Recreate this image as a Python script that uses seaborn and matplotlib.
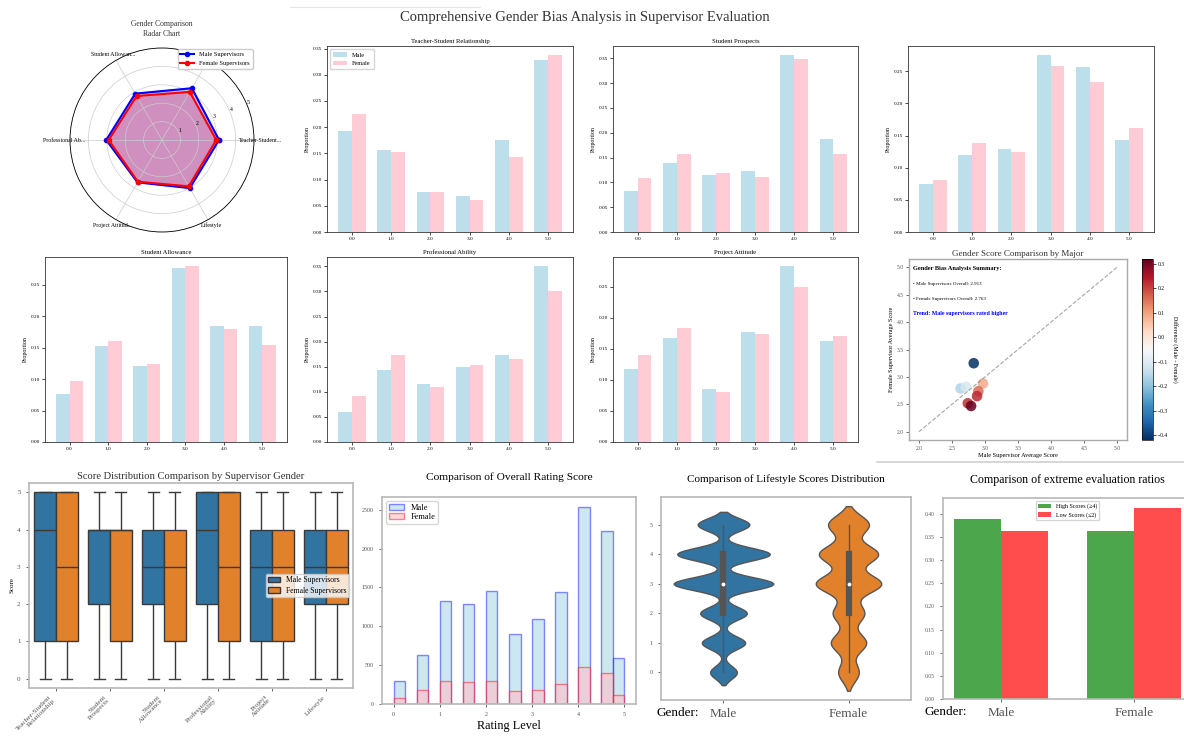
import numpy as np
import pandas as pd
import matplotlib
matplotlib.use("Agg")
import matplotlib.pyplot as plt
import seaborn as sns
from matplotlib.colors import Normalize, to_rgba
from matplotlib.cm import ScalarMappable
from matplotlib.lines import Line2D

plt.rcParams["font.family"] = ["Liberation Serif", "DejaVu Serif"]

# ---------------------------------------------------------------- data
dimensions = ["Teacher-Student Relationship", "Student Prospects", "Student Allowance",
              "Professional Ability", "Project Attitude", "Lifestyle"]
score_levels = ["0.0", "1.0", "2.0", "3.0", "4.0", "5.0"]

# share of each score (0..5) per dimension
ts_male = [0.193, 0.157, 0.076, 0.069, 0.175, 0.328]
ts_female = [0.225, 0.153, 0.076, 0.062, 0.144, 0.338]
sp_male = [0.083, 0.139, 0.115, 0.122, 0.357, 0.187]
sp_female = [0.108, 0.158, 0.118, 0.110, 0.349, 0.157]
sa_male = [0.0755, 0.152, 0.121, 0.277, 0.185, 0.185]
sa_female = [0.097, 0.161, 0.124, 0.280, 0.179, 0.154]
pa_male = [0.059, 0.143, 0.115, 0.149, 0.173, 0.351]
pa_female = [0.091, 0.173, 0.109, 0.153, 0.166, 0.300]
att_male = [0.118, 0.167, 0.085, 0.177, 0.284, 0.1625]
att_female = [0.140, 0.183, 0.080, 0.174, 0.250, 0.171]
ls_male = [0.074, 0.120, 0.129, 0.2755, 0.256, 0.143]
ls_female = [0.081, 0.139, 0.124, 0.258, 0.233, 0.161]

# radar: average score per dimension
radar_male = [3.10, 3.25, 2.91, 3.03, 2.66, 3.02]
radar_female = [2.95, 3.02, 2.76, 2.90, 2.62, 2.91]

# overall rating counts per rating level
rating_levels = [0.0, 0.5, 1.0, 1.5, 2.0, 2.5, 3.0, 3.5, 4.0, 4.5, 5.0]
overall_male = [299, 636, 1329, 1286, 1459, 905, 1091, 1446, 2537, 2229, 593]
overall_female = [82, 182, 299, 281, 290, 169, 182, 260, 476, 403, 117]

# per-major averages
major_male_avg = [2.83, 2.63, 2.71, 2.97, 2.90, 2.88, 2.74, 2.79]
major_female_avg = [3.25, 2.79, 2.82, 2.88, 2.74, 2.65, 2.52, 2.47]

male_props = [ts_male, sp_male, sa_male, pa_male, att_male, ls_male]
female_props = [ts_female, sp_female, sa_female, pa_female, att_female, ls_female]

W, H = 1184, 736
fig = plt.figure(figsize=(W / 100, H / 100), dpi=100)


def add_ax(l, t, r, b, **kw):
    return fig.add_axes([l / W, 1 - b / H, (r - l) / W, (b - t) / H], **kw)


def gray_frame(ax, color="#b8b8b8", lw=1.2):
    for s in ax.spines.values():
        s.set_color(color)
        s.set_linewidth(lw)
    ax.tick_params(colors="#555555", width=0.6, length=2.5)


n_male = int(np.sum(overall_male))
n_female = int(np.sum(overall_female))


def expand(props, n):
    p = np.asarray(props, dtype=float)
    counts = np.round(p / p.sum() * n).astype(int)
    return np.repeat(np.arange(len(p)), counts)


fig.text(585 / W, 1 - 18 / H, "Comprehensive Gender Bias Analysis in Supervisor Evaluation",
         ha="center", va="center", fontsize=10.5, color="#333333")

# ---------------------------------------------------------------- radar
rax = add_ax(70, 48, 254, 232, projection="polar")
angles = np.linspace(0, 2 * np.pi, len(dimensions), endpoint=False)
ang_c = np.concatenate([angles, angles[:1]])
m_c = np.concatenate([radar_male, radar_male[:1]])
f_c = np.concatenate([radar_female, radar_female[:1]])
rax.plot(ang_c, m_c, "o-", color="blue", lw=1.5, ms=3, label="Male Supervisors")
rax.fill(ang_c, m_c, color="blue", alpha=0.25)
rax.plot(ang_c, f_c, "o-", color="red", lw=1.5, ms=3, label="Female Supervisors")
rax.fill(ang_c, f_c, color="red", alpha=0.25)
rax.set_xticks(angles)
rax.set_xticklabels([d if len(d) <= 15 else d[:15] + "..." for d in dimensions], fontsize=4.2)
rax.set_ylim(0, 5)
rax.set_yticks([1, 2, 3, 4, 5])
rax.set_yticklabels(["1", "2", "3", "4", "5"], fontsize=4.2)
rax.tick_params(axis="x", pad=-6)
rax.tick_params(axis="y", pad=1)
rax.grid(color="#cccccc", lw=0.5)
rax.spines["polar"].set_linewidth(0.6)
leg = rax.legend(loc="upper right", fontsize=4.6, borderpad=0.4, handlelength=2.2,
                 bbox_to_anchor=(1.01, 1.01), framealpha=1)
leg.set_zorder(10)
fig.text(162 / W, 1 - 29 / H, "Gender Comparison\nRadar Chart", ha="center", va="center",
         fontsize=5.5, linespacing=1.2, color="#333333")

# ---------------------------------------------------------------- proportion panels
def prop_panel(box, male, female, title, legend=False):
    ax = add_ax(*box)
    df = pd.DataFrame({"Score": score_levels * 2,
                       "Proportion": list(male) + list(female),
                       "Gender": ["Male"] * 6 + ["Female"] * 6})
    sns.barplot(data=df, x="Score", y="Proportion", hue="Gender",
                palette={"Male": "lightblue", "Female": "pink"}, width=0.7,
                saturation=1, alpha=0.8, errorbar=None, ax=ax, legend=legend)
    ax.set_xlim(-0.635, 5.635)
    ax.set_xlabel("")
    ax.set_ylabel("Proportion", fontsize=4.3, labelpad=2)
    ax.tick_params(labelsize=3.8, length=2, width=0.5, pad=1.5)
    for s in ax.spines.values():
        s.set_linewidth(0.6)
        s.set_color("#333333")
    if title:
        ax.set_title(title, fontsize=4.8, pad=2.5)
    if legend:
        ax.legend(loc="upper left", fontsize=4.5, frameon=True, borderpad=0.5,
                  handlelength=2.2)
    return ax


prop_panel((327, 46, 573, 232), ts_male, ts_female, "Teacher-Student Relationship", legend=True)
prop_panel((613, 46, 858, 232), sp_male, sp_female, "Student Prospects")
prop_panel((908, 46, 1154, 232), ls_male, ls_female, None)
prop_panel((45, 257, 287, 442), sa_male, sa_female, "Student Allowance")
prop_panel((327, 257, 573, 442), pa_male, pa_female, "Professional Ability")
prop_panel((613, 257, 858, 442), att_male, att_female, "Project Attitude")

# ---------------------------------------------------------------- major scatter
sax = add_ax(909, 259, 1127, 440)
diff = np.array(major_male_avg) - np.array(major_female_avg)
norm = Normalize(vmin=diff.min(), vmax=diff.max())
sax.plot([2, 5], [2, 5], "--", color="gray", alpha=0.7, lw=0.8)
sns.scatterplot(x=major_male_avg, y=major_female_avg, hue=diff, palette="RdBu_r",
                hue_norm=norm, s=58, alpha=0.85, edgecolor="none", legend=False, ax=sax)
sax.set_xlim(1.85, 5.15)
sax.set_ylim(1.85, 5.15)
sax.set_xticks(np.arange(2.0, 5.01, 0.5))
sax.set_yticks(np.arange(2.0, 5.01, 0.5))
sax.tick_params(labelsize=4, length=2, width=0.5, pad=1.5)
gray_frame(sax, "#aaaaaa", 1.0)
sax.set_xlabel("Male Supervisor Average Score", fontsize=4.5, labelpad=2)
sax.set_ylabel("Female Supervisor Average Score", fontsize=4.5, labelpad=2)
sax.set_title("Gender Score Comparison by Major", fontsize=6.5, pad=2, color="#333333")
male_overall = np.dot(rating_levels, overall_male) / n_male
female_overall = np.dot(rating_levels, overall_female) / n_female
sax.text(0.02, 0.945, "Gender Bias Analysis Summary:", transform=sax.transAxes,
         fontsize=4.6, fontweight="bold", va="center")
sax.text(0.02, 0.862, f"• Male Supervisors Overall: {male_overall:.3f}", transform=sax.transAxes,
         fontsize=3.6, va="center")
sax.text(0.02, 0.78, f"• Female Supervisors Overall: {female_overall:.3f}", transform=sax.transAxes,
         fontsize=3.6, va="center")
trend = "Male supervisors rated higher" if male_overall > female_overall else "Female supervisors rated higher"
sax.text(0.02, 0.70, f"Trend: {trend}", transform=sax.transAxes, fontsize=4.2,
         fontweight="bold", color="blue", va="center")
cax = add_ax(1142, 259, 1153, 440)
cb = fig.colorbar(ScalarMappable(norm=norm, cmap="RdBu_r"), cax=cax)
cb.ax.tick_params(labelsize=4, length=2, width=0.5, pad=1.5)
cb.set_label("Difference (Male - Female)", fontsize=4.3, rotation=270, labelpad=7)
cb.outline.set_linewidth(0.5)

# ---------------------------------------------------------------- box plot
rows_dim, rows_sup, rows_score = [], [], []
for dim, mp, fp in zip(dimensions, male_props, female_props):
    for sup, props, n in (("Male Supervisors", mp, n_male), ("Female Supervisors", fp, n_female)):
        s = expand(props, n)
        rows_dim += [dim] * len(s)
        rows_sup += [sup] * len(s)
        rows_score.append(s)
box_df = pd.DataFrame({"Dimension": rows_dim, "Supervisor": rows_sup,
                       "Score": np.concatenate(rows_score)})
bax = add_ax(29, 483, 353, 688)
sns.boxplot(data=box_df, x="Dimension", y="Score", hue="Supervisor", ax=bax,
            linecolor="#3a3a3a", linewidth=1.0)
bax.set_xticks(range(len(dimensions)))
bax.set_xticklabels([d.replace(" ", "\n") for d in dimensions], rotation=45, ha="right",
                    fontsize=5.2, linespacing=1.0)
bax.tick_params(axis="x", pad=2)
bax.set_xlabel("")
bax.set_ylabel("Score", fontsize=5, labelpad=2)
bax.tick_params(axis="y", labelsize=5)
gray_frame(bax)
bax.set_title("Score Distribution Comparison by Supervisor Gender", fontsize=7.6, pad=3,
              color="#333333")
sns.move_legend(bax, "center right", title=None, fontsize=5.5, borderpad=0.3,
                handlelength=1.6, labelspacing=0.3)

# ---------------------------------------------------------------- overall rating histogram
hax = add_ax(382, 497, 636, 704)
sns.histplot(x=rating_levels, weights=overall_male, bins=20, binrange=(0, 5),
             color="lightblue", edgecolor="blue", linewidth=1.0, label="Male", ax=hax)
n1 = len(hax.patches)
sns.histplot(x=rating_levels, weights=overall_female, bins=20, binrange=(0, 5),
             color="pink", edgecolor="red", linewidth=1.0, label="Female", ax=hax)
for i, p in enumerate(hax.patches):
    face, edge = ("lightblue", "blue") if i < n1 else ("pink", "red")
    p.set_alpha(None)
    p.set_facecolor(to_rgba(face, 0.6))
    p.set_edgecolor(to_rgba(edge, 0.45))
hax.set_xticks(range(6))
hax.tick_params(labelsize=4.3)
hax.set_ylabel("")
hax.set_xlabel("Rating Level", fontsize=8.8, labelpad=2)
gray_frame(hax)
hax.legend(loc="upper left", fontsize=6, borderpad=0.3, handlelength=1.8, labelspacing=0.2)
hax.set_title("Comparison of Overall Rating Score", fontsize=8.2, pad=12)

# ---------------------------------------------------------------- lifestyle violin
ls_m = expand(ls_male, n_male)
ls_f = expand(ls_female, n_female)
vio_df = pd.DataFrame({"Gender": ["Male"] * len(ls_m) + ["Female"] * len(ls_f),
                       "Lifestyle": np.concatenate([ls_m, ls_f])})
vax = add_ax(661, 497, 911, 700)
sns.violinplot(data=vio_df, x="Gender", y="Lifestyle", hue="Gender", legend=False,
               common_norm=True, linecolor="#555555", linewidth=1.0,
               inner_kws=dict(box_width=4.5, whis_width=1.0, marker="."), ax=vax)
vax.set_xlabel("")
vax.set_ylabel("")
vax.tick_params(axis="y", labelsize=4.3)
vax.tick_params(axis="x", labelsize=9.5)
gray_frame(vax)
vax.set_title("Comparison of Lifestyle Scores Distribution", fontsize=8, pad=11)
fig.text(678 / W, 1 - 713 / H, "Gender:", ha="center", va="center", fontsize=9.5)

# ---------------------------------------------------------------- extreme ratios
high_label, low_label = "High Scores (≥4)", "Low Scores (≤2)"
levels_arr = np.array(rating_levels)
male_high = np.sum(np.array(overall_male)[levels_arr >= 4]) / n_male
male_low = np.sum(np.array(overall_male)[levels_arr <= 2]) / n_male
female_high = np.sum(np.array(overall_female)[levels_arr >= 4]) / n_female
female_low = np.sum(np.array(overall_female)[levels_arr <= 2]) / n_female
ratio_df = pd.DataFrame({"Gender": ["Male", "Male", "Female", "Female"],
                         "Type": [high_label, low_label, high_label, low_label],
                         "Ratio": [male_high, male_low, female_high, female_low]})
eax = add_ax(943, 498, 1192, 699)
sns.barplot(data=ratio_df, x="Gender", y="Ratio", hue="Type",
            palette={high_label: "green", low_label: "red"}, alpha=0.7, saturation=1,
            width=0.7, errorbar=None, ax=eax)
eax.set_xlim(-0.435, 1.435)
eax.set_xlabel("")
eax.set_ylabel("")
eax.tick_params(axis="y", labelsize=4)
eax.tick_params(axis="x", labelsize=9.5)
gray_frame(eax)
eax.set_title("Comparison of extreme evaluation ratios", fontsize=8.6, pad=11)
sns.move_legend(eax, "upper center", title=None, fontsize=4.3, borderpad=0.4,
                handlelength=2.2)
fig.text(946 / W, 1 - 712 / H, "Gender:", ha="center", va="center", fontsize=9.5)

# ---------------------------------------------------------------- separators
fig.add_artist(Line2D([877 / W, 1.0], [1 - 462 / H, 1 - 462 / H], color="#d0d0d0", lw=1.2))
fig.add_artist(Line2D([290 / W, 480 / W], [1 - 7 / H, 1 - 7 / H], color="#e6e6e6", lw=0.8))

fig.savefig("out.png", dpi=100)
